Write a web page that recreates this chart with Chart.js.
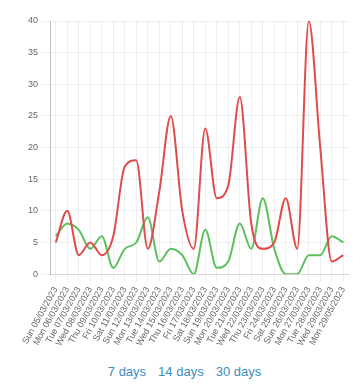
<!DOCTYPE html>
<html>
<head>
<meta charset="utf-8">
<script src="https://cdn.jsdelivr.net/npm/chart.js@4.4.0/dist/chart.umd.min.js"></script>
<style>
  body { margin: 0; background: #fff; font-family: "Helvetica Neue", Helvetica, Arial, sans-serif; }
  #wrap { width: 363px; height: 356px; position: relative; }
  .ranges { text-align: center; margin-top: 8px; font-size: 13px; padding-left: 6px; }
  .ranges a { color: #3c8dbc; text-decoration: none; margin: 0 6px; }
</style>
</head>
<body>
<div id="wrap"><canvas id="chart"></canvas></div>
<div class="ranges"><a href="#">7 days</a><a href="#">14 days</a><a href="#">30 days</a></div>
<script>
const labels = [
    "Sun 05/03/2023", "Mon 06/03/2023", "Tue 07/03/2023", "Wed 08/03/2023", "Thu 09/03/2023",
    "Fri 10/03/2023", "Sat 11/03/2023", "Sun 12/03/2023", "Mon 13/03/2023", "Tue 14/03/2023",
    "Wed 15/03/2023", "Thu 16/03/2023", "Fri 17/03/2023", "Sat 18/03/2023", "Sun 19/03/2023",
    "Mon 20/03/2023", "Tue 21/03/2023", "Wed 22/03/2023", "Thu 23/03/2023", "Fri 24/03/2023",
    "Sat 25/03/2023", "Sun 26/03/2023", "Mon 27/03/2023", "Tue 28/03/2023", "Wed 29/03/2023",
    "Mon 29/05/2023"
];
const redValues = [5, 10, 3, 5, 3, 6, 17, 18, 4, 13, 25, 10, 4, 23, 12, 14, 28, 8, 4, 5, 12, 4, 40, 20, 2, 3];
const greenValues = [6, 8, 7, 4, 6, 1, 4, 5, 9, 2, 4, 3, 0, 7, 1, 2, 8, 4, 12, 4, 0, 0, 3, 3, 6, 5];
const yTicks = [0, 5, 10, 15, 20, 25, 30, 35, 40];

new Chart(document.getElementById('chart'), {
    type: 'line',
    data: {
        labels: labels,
        datasets: [
            {
                data: redValues,
                borderColor: '#e04b4b',
                borderWidth: 2,
                pointRadius: 0,
                fill: false,
                cubicInterpolationMode: 'monotone'
            },
            {
                data: greenValues,
                borderColor: '#5cc05c',
                borderWidth: 2,
                pointRadius: 0,
                fill: false,
                cubicInterpolationMode: 'monotone'
            }
        ]
    },
    options: {
        responsive: true,
        maintainAspectRatio: false,
        animation: false,
        layout: { padding: { top: 21, right: 14, left: 24, bottom: 5 } },
        plugins: { legend: { display: false }, tooltip: { enabled: false } },
        scales: {
            x: {
                offset: true,
                grid: { color: 'rgba(0,0,0,0.06)', offset: false },
                ticks: { color: '#666', font: { size: 9 }, minRotation: 61, maxRotation: 61, autoSkip: false }
            },
            y: {
                min: 0,
                max: 40,
                afterBuildTicks: axis => { axis.ticks = yTicks.map(v => ({ value: v })); },
                grid: { color: 'rgba(0,0,0,0.06)' },
                border: { color: 'rgba(0,0,0,0.25)' },
                ticks: { color: '#666', font: { size: 9 }, padding: 4 }
            }
        }
    }
});
</script>
</body>
</html>
